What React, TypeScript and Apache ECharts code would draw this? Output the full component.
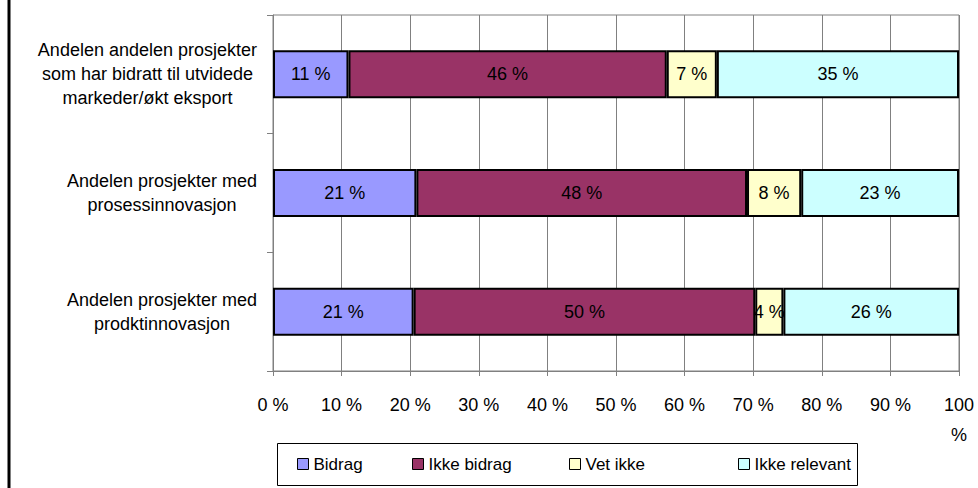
import React, { useEffect, useRef } from "react";
import * as echarts from "echarts";

const categories = [
  "Andelen andelen prosjekter\nsom har bidratt til utvidede\nmarkeder/økt eksport",
  "Andelen prosjekter med\nprosessinnovasjon",
  "Andelen prosjekter med\nprodktinnovasjon",
];
const seriesNames = ["Bidrag", "Ikke bidrag", "Vet ikke", "Ikke relevant"];
const bidrag = [11.0, 20.9, 20.5];
const ikkeBidrag = [46.4, 48.2, 49.8];
const vetIkke = [7.3, 7.9, 4.1];
const ikkeRelevant = [35.3, 23.0, 25.6];
const colors = ["#9999FF", "#993366", "#FFFFCC", "#CCFFFF"];
const legendLeft = [297, 412, 569, 738];

const FONT = "Liberation Sans, Arial, sans-serif";

export default function App() {
  const ref = useRef<HTMLDivElement>(null);
  useEffect(() => {
    if (!ref.current) return;
    const chart = echarts.init(ref.current, undefined, { renderer: "svg" });
    const values = [bidrag, ikkeBidrag, vetIkke, ikkeRelevant];
    const series = seriesNames.map((name, i) => ({
      name,
      type: "bar",
      stack: "total",
      barWidth: 48,
      data: values[i],
      itemStyle: { color: colors[i], borderColor: "#000", borderWidth: 2 },
      label: {
        show: true,
        position: "inside",
        color: "#000",
        fontSize: 18,
        fontFamily: FONT,
        formatter: (p: any) => Math.round(p.value) + " %",
      },
      emphasis: { disabled: true },
    }));
    const legends = seriesNames.map((name, i) => ({
      data: [name],
      left: legendLeft[i],
      top: 454,
      padding: 0,
      itemWidth: 11,
      itemHeight: 11,
      itemGap: 0,
      icon: "rect",
      itemStyle: { borderColor: "#000", borderWidth: 1 },
      selectedMode: false,
      textStyle: { fontSize: 17, fontFamily: FONT, color: "#000", lineHeight: 20 },
    }));
    chart.setOption({
      animation: false,
      backgroundColor: "#fff",
      grid: {
        left: 273,
        right: 19,
        top: 15,
        bottom: 117,
        containLabel: false,
        outerBoundsMode: "none",
        show: true,
        borderColor: "#808080",
        borderWidth: 1,
      },
      legend: legends,
      xAxis: {
        type: "value",
        min: 0,
        max: 100,
        interval: 10,
        axisLine: { show: true, lineStyle: { color: "#808080", width: 1 } },
        axisTick: { show: true, length: 5, lineStyle: { color: "#808080" } },
        splitLine: { show: true, lineStyle: { color: "#808080", width: 1 } },
        axisLabel: {
          show: true,
          showMinLabel: true,
          showMaxLabel: true,
          hideOverlap: false,
          fontSize: 18,
          fontFamily: FONT,
          color: "#000",
          lineHeight: 30,
          margin: 19,
          formatter: (v: number) => (v === 100 ? "100\n%" : v + " %"),
        },
      },
      yAxis: {
        type: "category",
        inverse: true,
        data: categories,
        axisLine: { show: true, lineStyle: { color: "#808080", width: 1 } },
        axisTick: { show: true, length: 6, alignWithLabel: false, lineStyle: { color: "#808080" } },
        axisLabel: {
          margin: 16,
          formatter: (v: string) =>
            v
              .split("\n")
              .map((l) => "{c|" + l + "}")
              .join("\n"),
          rich: {
            c: {
              align: "center",
              fontSize: 18,
              fontFamily: FONT,
              color: "#000",
              lineHeight: 24,
            },
          },
        },
      },
      graphic: [
        {
          type: "rect",
          shape: { x: 277.5, y: 443.5, width: 580, height: 42 },
          style: { fill: "none", stroke: "#000", lineWidth: 1 },
          silent: true,
          z: -1,
        },
        {
          type: "line",
          shape: { x1: 9, y1: 0, x2: 9, y2: 488 },
          style: { stroke: "#000", lineWidth: 3 },
          silent: true,
        },
      ],
      series,
    });
    return () => chart.dispose();
  }, []);
  return (
    <div
      ref={ref}
      style={{ position: "fixed", left: 0, top: 0, width: 978, height: 488, background: "#fff" }}
    />
  );
}
